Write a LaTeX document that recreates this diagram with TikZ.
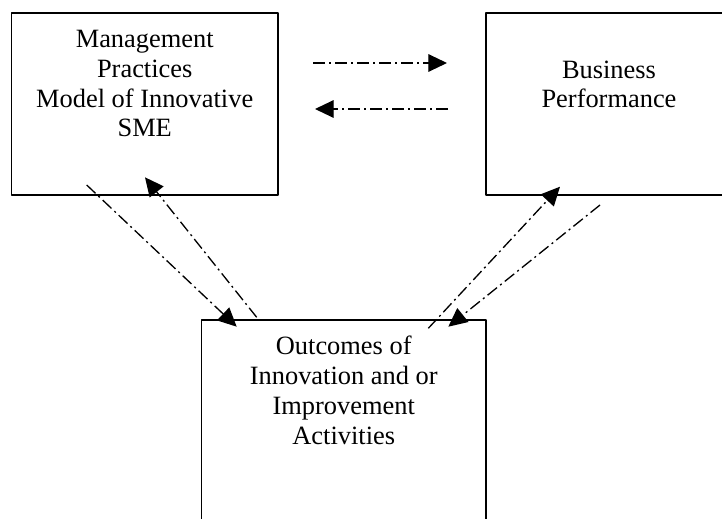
\documentclass[tikz,border=0pt]{standalone}
\usepackage{fontspec}
\setmainfont{Liberation Serif}
\usetikzlibrary{arrows.meta,calc}

\begin{document}
\begin{tikzpicture}[x=0.4545pt, y=0.4545pt, line join=round, >={Triangle[length=8.5pt, width=8pt]},
		box/.style={draw, line width=0.9pt, inner sep=0pt, anchor=north west},
		txt/.style={align=center, anchor=base, inner sep=0pt, font=\fontsize{12}{13.6}\selectfont},
		flow/.style={->, line width=0.6pt, dash pattern=on 5.5pt off 1.8pt on 0.9pt off 1.8pt}]
			\useasboundingbox (0,0) rectangle (722,-518);
			\clip (0,0) rectangle (722,-518);
			
			\node[box, minimum width=121.1pt, minimum height=82.5pt] (mgmt) at (10.5,-12) {};
			\node[box, minimum width=111.8pt, minimum height=82.5pt] (perf) at (485,-12) {};
			\node[box, minimum width=129.3pt, minimum height=104.5pt] (outc) at (200.5,-319) {};
			
			% base anchor sits on the last line
			\node[txt] (mgmttext) at ($(mgmt.north)+(0,-125)$) {Management\\Practices\\Model of Innovative\\SME};
			\node[txt] (perftext) at ($(perf.north)+(0,-96)$) {Business\\Performance};
			\node[txt] (outctext) at ($(outc.north)+(0,-125)$) {Outcomes of\\Innovation and or\\Improvement\\Activities};
			
			\path 
				(313,-63) coordinate (T1)
				(447,-63) coordinate (T2)
				(448,-109) coordinate (U1)
				(315,-109) coordinate (U2)
				(86.7,-185) coordinate (A1)
				(236.7,-326.7) coordinate (A2)
				(256.7,-317.3) coordinate (B1)
				(145,-177.3) coordinate (B2)
				(428.3,-328.3) coordinate (C1)
				(560,-186.7) coordinate (C2)
				(600,-205) coordinate (D1)
				(448.3,-326.7) coordinate (D2)
			;
			
			\foreach \s/\e in {T1/T2, U1/U2, A1/A2, B1/B2, C1/C2, D1/D2}{
				\draw[flow] (\s) -- (\e);
			};
			
		\end{tikzpicture}
\end{document}
